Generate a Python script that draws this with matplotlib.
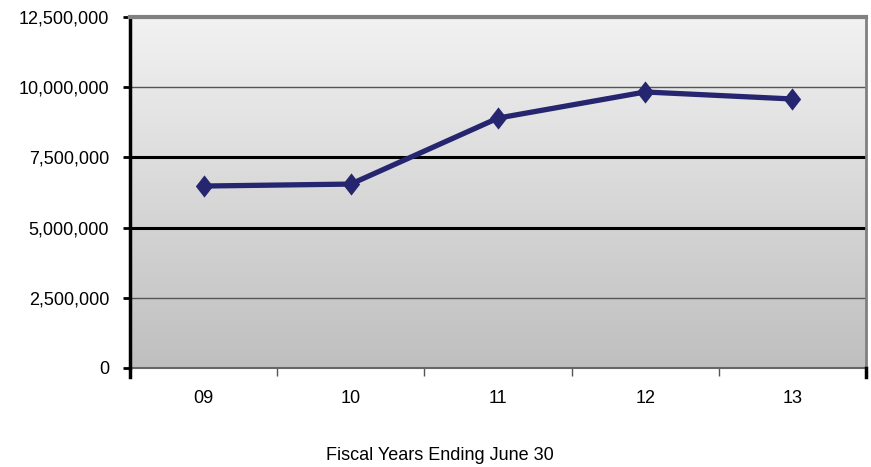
import numpy as np
import matplotlib
matplotlib.use("Agg")
import matplotlib.pyplot as plt
from matplotlib.font_manager import fontManager

years = ["09", "10", "11", "12", "13"]
values = [6480000, 6550000, 8900000, 9830000, 9580000]
y_ticks = [0, 2500000, 5000000, 7500000, 10000000, 12500000]
x_label = "Fiscal Years Ending June 30"

names = {f.name for f in fontManager.ttflist}
family = ["Liberation Sans Narrow"] if "Liberation Sans Narrow" in names else ["Liberation Sans"]
plt.rcParams["font.family"] = family + ["DejaVu Sans"]

fig = plt.figure(figsize=(8.71, 4.67), dpi=100)
ax = fig.add_axes([130 / 871, 1 - 368 / 467, 736 / 871, 351 / 467])

n = len(years)
ax.set_xlim(0, n)
ax.set_ylim(0, 12500000)

# vertical gradient fill behind the plot
grad = np.linspace(0, 1, 256).reshape(-1, 1)
cmap = matplotlib.colors.LinearSegmentedColormap.from_list("bg", ["#bfbfbf", "#f2f2f2"])
ax.imshow(grad, extent=[0, n, 0, 12500000], origin="lower", aspect="auto",
          cmap=cmap, zorder=0)

# horizontal gridlines: heavier at the middle values
for v in y_ticks[1:-1]:
    heavy = v in (5000000, 7500000)
    ax.axhline(v, color="#000000" if heavy else "#555555",
               lw=2.2 if heavy else 1.0, zorder=1)

xs = np.arange(n) + 0.5
diamond = [(0, 1), (0.78, 0), (0, -1), (-0.78, 0), (0, 1)]
ax.plot(xs, values, color="#262670", lw=3.8, marker=diamond, ms=16,
        markeredgewidth=0, solid_joinstyle="round", zorder=3)

ax.set_yticks(y_ticks)
ax.set_yticklabels([f"{v:,}" for v in y_ticks])
ax.set_xticks(xs)
ax.set_xticklabels(years)
ax.set_xticks(np.arange(n + 1), minor=True)
ax.tick_params(axis="x", which="major", length=0, pad=16, labelsize=13)
ax.tick_params(axis="x", which="minor", length=6, width=1, color="#555555")
ax.tick_params(axis="y", length=5, width=2, color="black", labelsize=13, pad=10)

for side in ("top", "right"):
    ax.spines[side].set_color("#808080")
ax.spines["top"].set_linewidth(3)
ax.spines["right"].set_linewidth(2)
ax.spines["bottom"].set_color("#666666")
ax.spines["bottom"].set_linewidth(1.5)
ax.spines["left"].set_color("black")
ax.spines["left"].set_linewidth(2.5)

# heavier end marks on the category axis
ax.plot([0, 0], [0, -0.025], transform=ax.get_xaxis_transform(), color="black",
        lw=2.5, clip_on=False, zorder=5)
ax.plot([n, n], [0, -0.025], transform=ax.get_xaxis_transform(), color="black",
        lw=2.5, clip_on=False, zorder=5)

fig.text(440 / 871, 1 - 455 / 467, x_label, ha="center", va="center", fontsize=13)

fig.savefig("out.png", dpi=100)
